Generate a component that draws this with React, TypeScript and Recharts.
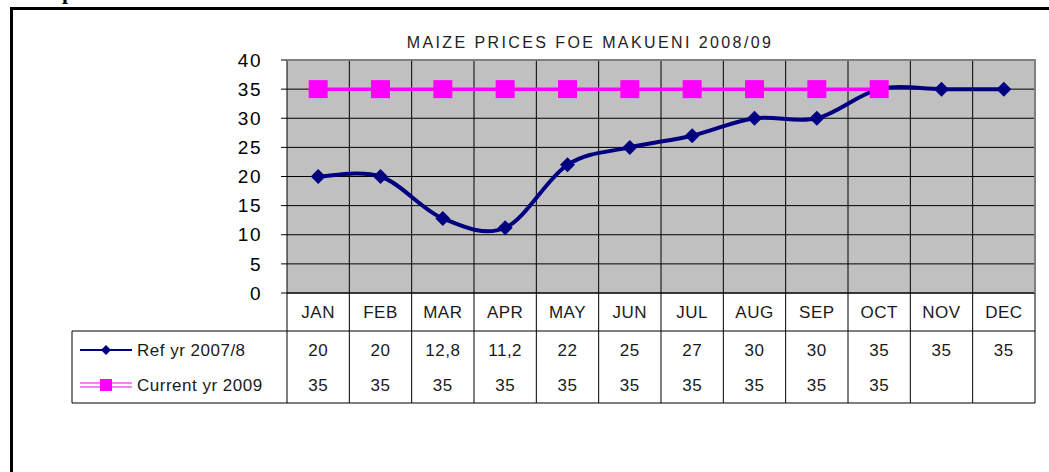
import React from 'react';
import { LineChart, Line, XAxis, YAxis, CartesianGrid } from 'recharts';

const months = ['JAN', 'FEB', 'MAR', 'APR', 'MAY', 'JUN', 'JUL', 'AUG', 'SEP', 'OCT', 'NOV', 'DEC'];
const refYr: number[] = [20, 20, 12.8, 11.2, 22, 25, 27, 30, 30, 35, 35, 35];
const currentYr: (number | null)[] = [35, 35, 35, 35, 35, 35, 35, 35, 35, 35, null, null];
const yTicks = [0, 5, 10, 15, 20, 25, 30, 35, 40];
const seriesNames = ['Ref yr 2007/8', 'Current yr 2009'];
const chartTitle = 'MAIZE PRICES FOE MAKUENI 2008/09';
const pageHeading = 'Maize prices';

const data = months.map((m, i) => ({ month: m, ref: refYr[i], cur: currentYr[i] }));

const W = 1049;
const H = 472;
const PLOT_L = 287;
const PLOT_T = 60;
const PLOT_R = 1035;
const PLOT_B = 293;
const Y_AXIS_W = 80;
const TABLE_H = 110;
const ROW1 = 38;
const LEGEND_L = 72;
const COL_W = (PLOT_R - PLOT_L) / months.length;
const PLOT_H = PLOT_B - PLOT_T;
const FONT = '"Liberation Sans", Arial, sans-serif';
const NAVY = '#000080';
const MAGENTA = '#FF00FF';
const BORDER = '#808080';

const fmt = (v: number | null | undefined) => (v == null ? '' : String(v).replace('.', ','));

// Catmull-Rom style smoothing similar to Excel's smoothed line
function smoothCurve(context: any) {
  let pts: [number, number][] = [];
  return {
    areaStart() {},
    areaEnd() {},
    lineStart() {
      pts = [];
    },
    point(x: number, y: number) {
      pts.push([+x, +y]);
    },
    lineEnd() {
      if (!pts.length) return;
      context.moveTo(pts[0][0], pts[0][1]);
      const t = 1 / 6;
      for (let i = 0; i < pts.length - 1; i++) {
        const p0 = pts[i - 1] || pts[i];
        const p1 = pts[i];
        const p2 = pts[i + 1];
        const p3 = pts[i + 2] || pts[i + 1];
        context.bezierCurveTo(
          p1[0] + (p2[0] - p0[0]) * t,
          p1[1] + (p2[1] - p0[1]) * t,
          p2[0] - (p3[0] - p1[0]) * t,
          p2[1] - (p3[1] - p1[1]) * t,
          p2[0],
          p2[1]
        );
      }
    },
  };
}

const Diamond = (p: any) => {
  const { cx, cy, value } = p;
  if (cx == null || cy == null || value == null) return <g key={p.key} />;
  const s = 7.5;
  return (
    <path
      key={p.key}
      d={`M${cx},${cy - s}L${cx + s},${cy}L${cx},${cy + s}L${cx - s},${cy}Z`}
      fill={NAVY}
    />
  );
};

const Square = (p: any) => {
  const { cx, cy, value } = p;
  if (cx == null || cy == null || value == null) return <g key={p.key} />;
  return <rect key={p.key} x={cx - 9.5} y={cy - 9} width={19} height={18} fill={MAGENTA} />;
};

const txtStyle: any = {
  fontFamily: FONT,
  fontSize: 17,
  fill: '#1a1a1a',
  letterSpacing: 0.5,
};

const TableTick = (props: any) => {
  const { x, y, payload } = props;
  const i = payload?.index ?? props.index ?? 0;
  const l = x - COL_W / 2;
  const r = x + COL_W / 2;
  const rowY0 = y + 19.5;
  const rowY1 = y + 57;
  const rowY2 = y + 92;
  const top = y - PLOT_H;
  return (
    <g>
      {/* plot-area frame (top, and right at last column) */}
      <line x1={l} y1={top} x2={r} y2={top} stroke={BORDER} strokeWidth={2} />
      {i === months.length - 1 && (
        <line x1={r} y1={top - 1} x2={r} y2={y} stroke={BORDER} strokeWidth={2} />
      )}
      {i === 0 && (
        <g>
          <line x1={l} y1={y} x2={l} y2={y + TABLE_H} stroke="#000" strokeWidth={1} />
          <line x1={LEGEND_L} y1={y + ROW1} x2={l} y2={y + ROW1} stroke="#000" strokeWidth={1} />
          <line x1={LEGEND_L} y1={y + TABLE_H} x2={l} y2={y + TABLE_H} stroke="#000" strokeWidth={1} />
          <line x1={LEGEND_L} y1={y + ROW1} x2={LEGEND_L} y2={y + TABLE_H} stroke="#000" strokeWidth={1} />
          <line x1={80} y1={rowY1} x2={132} y2={rowY1} stroke={NAVY} strokeWidth={2} />
          <path d={`M106,${rowY1 - 5}L111,${rowY1}L106,${rowY1 + 5}L101,${rowY1}Z`} fill={NAVY} />
          <text x={137} y={rowY1} dominantBaseline="central" style={{ ...txtStyle, fontSize: 17 }}>
            {seriesNames[0]}
          </text>
          <line x1={80} y1={rowY2 - 2} x2={132} y2={rowY2 - 2} stroke={MAGENTA} strokeWidth={1} />
          <line x1={80} y1={rowY2 + 2} x2={132} y2={rowY2 + 2} stroke={MAGENTA} strokeWidth={1} />
          <rect x={100} y={rowY2 - 6} width={12} height={12} fill={MAGENTA} />
          <text x={137} y={rowY2} dominantBaseline="central" style={{ ...txtStyle, fontSize: 17 }}>
            {seriesNames[1]}
          </text>
        </g>
      )}
      <line x1={r} y1={y} x2={r} y2={y + TABLE_H} stroke="#000" strokeWidth={1} />
      <line x1={l} y1={y + ROW1} x2={r} y2={y + ROW1} stroke="#000" strokeWidth={1} />
      <line x1={l} y1={y + TABLE_H} x2={r} y2={y + TABLE_H} stroke="#000" strokeWidth={1} />
      <text x={x} y={rowY0} textAnchor="middle" dominantBaseline="central" style={txtStyle}>
        {payload.value}
      </text>
      <text x={x} y={rowY1} textAnchor="middle" dominantBaseline="central" style={txtStyle}>
        {fmt(refYr[i])}
      </text>
      <text x={x} y={rowY2} textAnchor="middle" dominantBaseline="central" style={txtStyle}>
        {fmt(currentYr[i])}
      </text>
    </g>
  );
};

export default function App() {
  return (
    <div
      style={{
        position: 'fixed',
        left: 0,
        top: 0,
        width: W,
        height: H,
        overflow: 'hidden',
        background: '#fff',
      }}
    >
      <div
        style={{
          position: 'absolute',
          left: -1,
          top: -19,
          fontFamily: '"Liberation Serif", "Times New Roman", serif',
          fontWeight: 'bold',
          fontSize: 22,
          lineHeight: '22px',
          color: '#000',
          whiteSpace: 'nowrap',
        }}
      >
        {pageHeading}
      </div>
      <div
        style={{
          position: 'absolute',
          left: 10,
          top: 7,
          width: 1200,
          height: 700,
          border: '3px solid #000',
        }}
      />
      <div
        style={{
          position: 'absolute',
          left: 390,
          top: 35,
          width: 400,
          textAlign: 'center',
          fontFamily: FONT,
          fontSize: 16,
          lineHeight: '16px',
          letterSpacing: 2.4,
          color: '#222',
          whiteSpace: 'nowrap',
        }}
      >
        {chartTitle}
      </div>
      <div style={{ position: 'absolute', left: 0, top: 0 }}>
        <LineChart
          width={W}
          height={H}
          data={data}
          margin={{
            top: PLOT_T,
            right: W - PLOT_R,
            left: PLOT_L - Y_AXIS_W,
            bottom: H - PLOT_B - TABLE_H,
          }}
        >
          <CartesianGrid
            fill="#C0C0C0"
            fillOpacity={1}
            stroke="#000"
            strokeWidth={1}
            verticalCoordinatesGenerator={({ offset }: any) =>
              months.slice(1).map((_, i) => offset.left + ((i + 1) * offset.width) / months.length)
            }
          />
          <XAxis
            dataKey="month"
            height={TABLE_H}
            padding={{ left: COL_W / 2, right: COL_W / 2 }}
            tickLine={false}
            tickSize={0}
            tickMargin={0}
            axisLine={{ stroke: '#000', strokeWidth: 1 }}
            interval={0}
            tick={<TableTick />}
          />
          <YAxis
            domain={[0, 40]}
            ticks={yTicks}
            interval={0}
            width={Y_AXIS_W}
            tickSize={6}
            tickMargin={19}
            axisLine={{ stroke: '#000', strokeWidth: 1 }}
            tickLine={{ stroke: '#000' }}
            tick={{ fontFamily: FONT, fontSize: 19, fill: '#000', letterSpacing: 1.5 } as any}
          />
          <Line
            dataKey="ref"
            type={smoothCurve as any}
            stroke={NAVY}
            strokeWidth={4}
            dot={Diamond}
            activeDot={false}
            isAnimationActive={false}
          />
          <Line
            dataKey="cur"
            type="linear"
            stroke={MAGENTA}
            strokeWidth={3.5}
            dot={Square}
            activeDot={false}
            isAnimationActive={false}
          />
        </LineChart>
      </div>
    </div>
  );
}
